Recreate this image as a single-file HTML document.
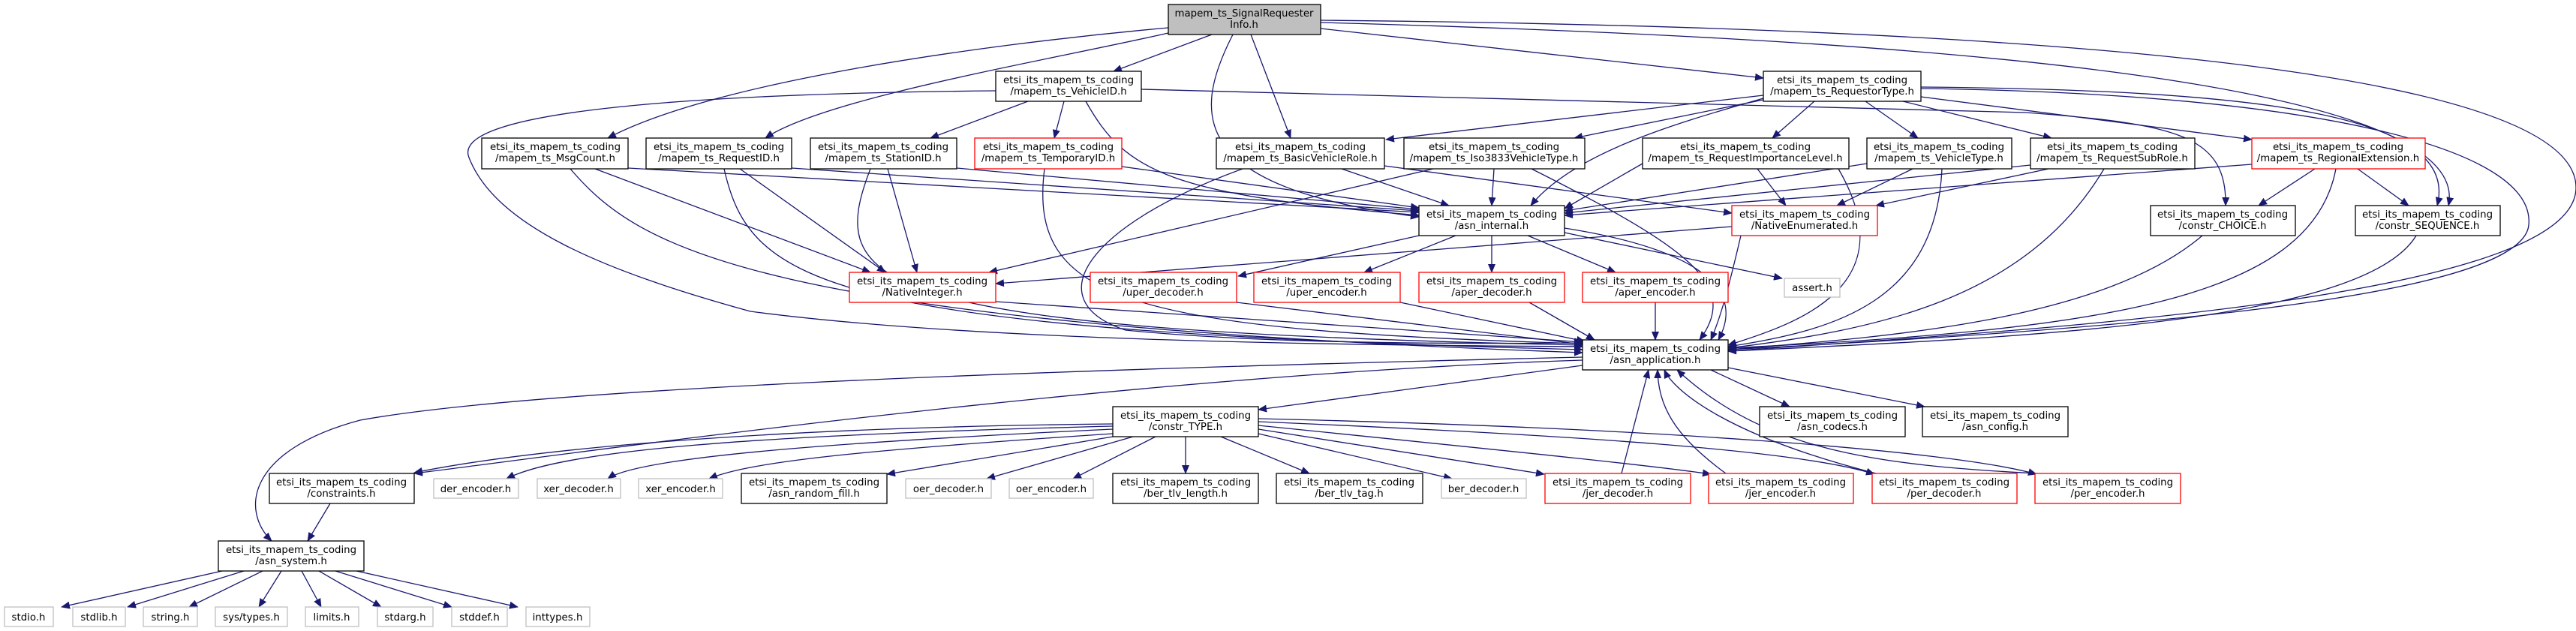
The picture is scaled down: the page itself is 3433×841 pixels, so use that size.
<!DOCTYPE html>
<html><head><meta charset="utf-8"><style>
html,body{margin:0;padding:0;background:#fff;}
svg{display:block;}
text{font-family:"DejaVu Sans","Liberation Sans",sans-serif;font-size:13.33px;fill:#000;}
</style></head><body>
<svg width="3433" height="841" viewBox="0 0 3433 841" xmlns="http://www.w3.org/2000/svg">
<defs>
<marker id="a" markerWidth="12" markerHeight="10" refX="11" refY="5" orient="auto" markerUnits="userSpaceOnUse">
<path d="M0,0 L12,5 L0,10 z" fill="#191970"/>
</marker>
</defs>
<g fill="none" stroke="#191970" stroke-width="1.3" marker-end="url(#a)">
<!-- main -->
<path d="M1615 46 L1484 95"/>
<path d="M1557 37 C1300 60 950 110 810 184"/>
<path d="M1557 44 C1400 80 1100 130 1020 184"/>
<path d="M1643 46 C1590 150 1580 250 1891 289"/>
<path d="M1667 46 L1720 184"/>
<path d="M1760 38 L2350 104"/>
<path d="M1760 27 C2600 35 3433 80 3433 250 C3433 400 2700 440 2303 468"/>
<path d="M1760 30 C2500 50 3300 100 3263 274"/>
<!-- VehicleID -->
<path d="M1370 135 L1240 184"/>
<path d="M1418 135 L1405 184"/>
<path d="M1447 135 C1500 230 1560 260 1891 287"/>
<path d="M1521 119 L2700 150 C2900 165 2968 180 2966 274"/>
<path d="M1327 121 C900 125 600 150 625 210 C660 300 800 360 1000 415 C1300 455 1800 460 2109 462"/>
<!-- RequestorType -->
<path d="M2350 127 L1847 186"/>
<path d="M2350 133 L2098 184"/>
<path d="M2418 135 L2362 184"/>
<path d="M2486 135 L2556 184"/>
<path d="M2536 135 L2734 184"/>
<path d="M2560 129 L3001 186"/>
<path d="M2350 131 C2250 160 2100 200 2040 274"/>
<path d="M2560 116 C3000 120 3280 150 3248 274"/>
<path d="M2560 118 C3100 125 3380 200 3370 300 C3360 400 2800 440 2303 466"/>
<!-- Row3 -> asn_internal -->
<path d="M837 224 L1891 283"/>
<path d="M1055 224 L1891 281"/>
<path d="M1275 224 L1891 279"/>
<path d="M1495 222 L1891 277"/>
<path d="M1788 225 L1931 274"/>
<path d="M1991 225 L1988 274"/>
<path d="M2189 218 L2085 278"/>
<path d="M2488 218 L2085 281"/>
<path d="M2706 220 L2085 284"/>
<path d="M3001 219 L2085 287"/>
<!-- -> NativeInteger -->
<path d="M793 225 L1160 363"/>
<path d="M986 225 L1180 363"/>
<path d="M1183 225 L1222 363"/>
<path d="M1910 225 L1318 363"/>
<path d="M2308 302 L1327 378"/>
<!-- -> NativeEnumerated -->
<path d="M1845 221 L2308 284"/>
<path d="M2342 225 L2380 274"/>
<path d="M2549 225 L2448 274"/>
<path d="M2730 225 L2500 274"/>
<!-- RegionalExt -->
<path d="M3085 225 L3010 274"/>
<path d="M3142 225 L3210 274"/>
<path d="M3113 225 C3080 400 2800 440 2303 464"/>
<!-- Row3 -> asn_application -->
<path d="M760 225 C850 330 1000 430 2109 470"/>
<path d="M965 225 C1000 380 1100 440 2109 466"/>
<path d="M1160 225 C1100 380 1150 440 2109 460"/>
<path d="M1392 225 C1370 400 1500 440 2109 458"/>
<path d="M1656 225 C1450 300 1380 400 1500 440 C1700 460 2000 458 2109 457"/>
<path d="M2041 225 C2250 330 2320 380 2265 453"/>
<path d="M2450 225 C2540 380 2400 430 2303 460"/>
<path d="M2588 225 C2580 400 2450 440 2303 462"/>
<path d="M2804 225 C2700 400 2500 440 2303 464"/>
<!-- asn_internal -->
<path d="M1891 314 L1650 368"/>
<path d="M1940 314 L1818 363"/>
<path d="M1988 314 L1988 363"/>
<path d="M2036 314 L2153 363"/>
<path d="M2085 310 L2375 371"/>
<path d="M2085 304 C2250 330 2330 380 2290 453"/>
<path d="M2320 314 C2300 400 2290 430 2280 453"/>
<path d="M2935 314 C2800 430 2500 450 2303 466"/>
<path d="M3220 314 C3150 430 2700 450 2303 468"/>
<!-- row5 -> asn_application -->
<path d="M1327 402 L2109 456"/>
<path d="M1648 403 L2109 459"/>
<path d="M1866 403 L2112 455"/>
<path d="M2038 403 L2125 453"/>
<path d="M2206 403 L2206 453"/>
<!-- asn_application -->
<path d="M2109 487 L1677 546"/>
<path d="M2280 493 L2385 542"/>
<path d="M2303 490 L2565 542"/>
<path d="M2109 476 C1300 495 700 520 480 560 C330 600 320 680 362 721"/>
<path d="M2109 480 C1500 500 800 600 552 631"/>
<!-- constr_TYPE -->
<path d="M1483 565 C1000 570 700 600 552 630"/>
<path d="M1483 568 C1000 580 750 600 675 638"/>
<path d="M1483 572 C1100 590 850 610 810 638"/>
<path d="M1483 578 C1150 600 1000 615 945 638"/>
<path d="M1483 582 L1182 632"/>
<path d="M1510 582 L1315 638"/>
<path d="M1540 582 L1430 638"/>
<path d="M1580 582 L1580 631"/>
<path d="M1627 582 L1745 631"/>
<path d="M1677 578 L1935 638"/>
<path d="M1677 572 L2058 632"/>
<path d="M1677 567 C2000 600 2200 620 2280 632"/>
<path d="M1677 562 C2100 580 2400 600 2498 632"/>
<path d="M1677 558 C2200 570 2600 600 2714 632"/>
<!-- up to asn_application -->
<path d="M2161 631 L2197 493"/>
<path d="M2300 631 C2230 580 2210 540 2209 493"/>
<path d="M2500 631 C2300 580 2230 520 2218 493"/>
<path d="M2714 631 C2500 620 2350 600 2235 493"/>
<!-- constraints, asn_system -->
<path d="M440 671 L410 721"/>
<path d="M296 761 L82 809"/>
<path d="M325 761 L170 809"/>
<path d="M350 761 L252 809"/>
<path d="M375 761 L345 809"/>
<path d="M402 761 L428 809"/>
<path d="M425 761 L508 809"/>
<path d="M447 761 L602 809"/>
<path d="M475 761 L690 809"/>
</g>
<g stroke-width="1.3">
<rect x="1557" y="6" width="203" height="40" fill="#bfbfbf" stroke="#000"/>
<g fill="#fff" stroke="#000">
<rect x="1327" y="95" width="194" height="40"/>
<rect x="2350" y="95" width="210" height="40"/>
<rect x="642" y="184" width="195" height="41"/>
<rect x="861" y="184" width="194" height="41"/>
<rect x="1080" y="184" width="195" height="41"/>
<rect x="1621" y="184" width="224" height="41"/>
<rect x="1871" y="184" width="241" height="41"/>
<rect x="2189" y="184" width="275" height="41"/>
<rect x="2488" y="184" width="193" height="41"/>
<rect x="2706" y="184" width="219" height="41"/>
<rect x="1891" y="274" width="194" height="40"/>
<rect x="2866" y="274" width="193" height="40"/>
<rect x="3139" y="274" width="193" height="40"/>
<rect x="2109" y="453" width="194" height="40"/>
<rect x="1483" y="542" width="194" height="40"/>
<rect x="2345" y="542" width="194" height="40"/>
<rect x="2562" y="542" width="194" height="40"/>
<rect x="359" y="631" width="193" height="40"/>
<rect x="988" y="631" width="194" height="40"/>
<rect x="1483" y="631" width="194" height="40"/>
<rect x="1701" y="631" width="195" height="40"/>
<rect x="291" y="721" width="194" height="40"/>
</g>
<g fill="#fff" stroke="#ff0000">
<rect x="1299" y="184" width="196" height="41"/>
<rect x="3001" y="184" width="231" height="41"/>
<rect x="2308" y="274" width="194" height="40"/>
<rect x="1132" y="363" width="195" height="40"/>
<rect x="1453" y="363" width="195" height="40"/>
<rect x="1671" y="363" width="195" height="40"/>
<rect x="1891" y="363" width="194" height="40"/>
<rect x="2109" y="363" width="194" height="40"/>
<rect x="2059" y="631" width="194" height="40"/>
<rect x="2277" y="631" width="193" height="40"/>
<rect x="2495" y="631" width="193" height="40"/>
<rect x="2712" y="631" width="194" height="40"/>
</g>
<g fill="#fff" stroke="#bfbfbf">
<rect x="2378" y="371" width="74" height="25"/>
<rect x="578" y="638" width="113" height="26"/>
<rect x="716" y="638" width="111" height="26"/>
<rect x="851" y="638" width="112" height="26"/>
<rect x="1207" y="638" width="114" height="26"/>
<rect x="1345" y="638" width="112" height="26"/>
<rect x="1921" y="638" width="113" height="26"/>
<rect x="6" y="809" width="65" height="26"/>
<rect x="97" y="809" width="70" height="26"/>
<rect x="191" y="809" width="72" height="26"/>
<rect x="287" y="809" width="96" height="26"/>
<rect x="407" y="809" width="71" height="26"/>
<rect x="503" y="809" width="74" height="26"/>
<rect x="602" y="809" width="74" height="26"/>
<rect x="701" y="809" width="85" height="26"/>
</g>
</g>
<g text-anchor="middle">
<text x="1658" y="22">mapem_ts_SignalRequester</text><text x="1658" y="37">Info.h</text>
<text x="1424" y="111">etsi_its_mapem_ts_coding</text><text x="1424" y="126">/mapem_ts_VehicleID.h</text>
<text x="2455" y="111">etsi_its_mapem_ts_coding</text><text x="2455" y="126">/mapem_ts_RequestorType.h</text>
<text x="740" y="200">etsi_its_mapem_ts_coding</text><text x="740" y="215">/mapem_ts_MsgCount.h</text>
<text x="958" y="200">etsi_its_mapem_ts_coding</text><text x="958" y="215">/mapem_ts_RequestID.h</text>
<text x="1177" y="200">etsi_its_mapem_ts_coding</text><text x="1177" y="215">/mapem_ts_StationID.h</text>
<text x="1397" y="200">etsi_its_mapem_ts_coding</text><text x="1397" y="215">/mapem_ts_TemporaryID.h</text>
<text x="1733" y="200">etsi_its_mapem_ts_coding</text><text x="1733" y="215">/mapem_ts_BasicVehicleRole.h</text>
<text x="1991" y="200">etsi_its_mapem_ts_coding</text><text x="1991" y="215">/mapem_ts_Iso3833VehicleType.h</text>
<text x="2326" y="200">etsi_its_mapem_ts_coding</text><text x="2326" y="215">/mapem_ts_RequestImportanceLevel.h</text>
<text x="2584" y="200">etsi_its_mapem_ts_coding</text><text x="2584" y="215">/mapem_ts_VehicleType.h</text>
<text x="2815" y="200">etsi_its_mapem_ts_coding</text><text x="2815" y="215">/mapem_ts_RequestSubRole.h</text>
<text x="3116" y="200">etsi_its_mapem_ts_coding</text><text x="3116" y="215">/mapem_ts_RegionalExtension.h</text>
<text x="1988" y="290">etsi_its_mapem_ts_coding</text><text x="1988" y="305">/asn_internal.h</text>
<text x="2405" y="290">etsi_its_mapem_ts_coding</text><text x="2405" y="305">/NativeEnumerated.h</text>
<text x="2962" y="290">etsi_its_mapem_ts_coding</text><text x="2962" y="305">/constr_CHOICE.h</text>
<text x="3235" y="290">etsi_its_mapem_ts_coding</text><text x="3235" y="305">/constr_SEQUENCE.h</text>
<text x="1229" y="379">etsi_its_mapem_ts_coding</text><text x="1229" y="394">/NativeInteger.h</text>
<text x="1550" y="379">etsi_its_mapem_ts_coding</text><text x="1550" y="394">/uper_decoder.h</text>
<text x="1768" y="379">etsi_its_mapem_ts_coding</text><text x="1768" y="394">/uper_encoder.h</text>
<text x="1988" y="379">etsi_its_mapem_ts_coding</text><text x="1988" y="394">/aper_decoder.h</text>
<text x="2206" y="379">etsi_its_mapem_ts_coding</text><text x="2206" y="394">/aper_encoder.h</text>
<text x="2415" y="388">assert.h</text>
<text x="2206" y="469">etsi_its_mapem_ts_coding</text><text x="2206" y="484">/asn_application.h</text>
<text x="1580" y="558">etsi_its_mapem_ts_coding</text><text x="1580" y="573">/constr_TYPE.h</text>
<text x="2442" y="558">etsi_its_mapem_ts_coding</text><text x="2442" y="573">/asn_codecs.h</text>
<text x="2659" y="558">etsi_its_mapem_ts_coding</text><text x="2659" y="573">/asn_config.h</text>
<text x="455" y="647">etsi_its_mapem_ts_coding</text><text x="455" y="662">/constraints.h</text>
<text x="634" y="656">der_encoder.h</text>
<text x="771" y="656">xer_decoder.h</text>
<text x="907" y="656">xer_encoder.h</text>
<text x="1085" y="647">etsi_its_mapem_ts_coding</text><text x="1085" y="662">/asn_random_fill.h</text>
<text x="1264" y="656">oer_decoder.h</text>
<text x="1401" y="656">oer_encoder.h</text>
<text x="1580" y="647">etsi_its_mapem_ts_coding</text><text x="1580" y="662">/ber_tlv_length.h</text>
<text x="1798" y="647">etsi_its_mapem_ts_coding</text><text x="1798" y="662">/ber_tlv_tag.h</text>
<text x="1977" y="656">ber_decoder.h</text>
<text x="2156" y="647">etsi_its_mapem_ts_coding</text><text x="2156" y="662">/jer_decoder.h</text>
<text x="2373" y="647">etsi_its_mapem_ts_coding</text><text x="2373" y="662">/jer_encoder.h</text>
<text x="2591" y="647">etsi_its_mapem_ts_coding</text><text x="2591" y="662">/per_decoder.h</text>
<text x="2809" y="647">etsi_its_mapem_ts_coding</text><text x="2809" y="662">/per_encoder.h</text>
<text x="388" y="737">etsi_its_mapem_ts_coding</text><text x="388" y="752">/asn_system.h</text>
<text x="38" y="827">stdio.h</text>
<text x="132" y="827">stdlib.h</text>
<text x="227" y="827">string.h</text>
<text x="335" y="827">sys/types.h</text>
<text x="442" y="827">limits.h</text>
<text x="540" y="827">stdarg.h</text>
<text x="639" y="827">stddef.h</text>
<text x="743" y="827">inttypes.h</text>
</g>
</svg>
</body></html>
